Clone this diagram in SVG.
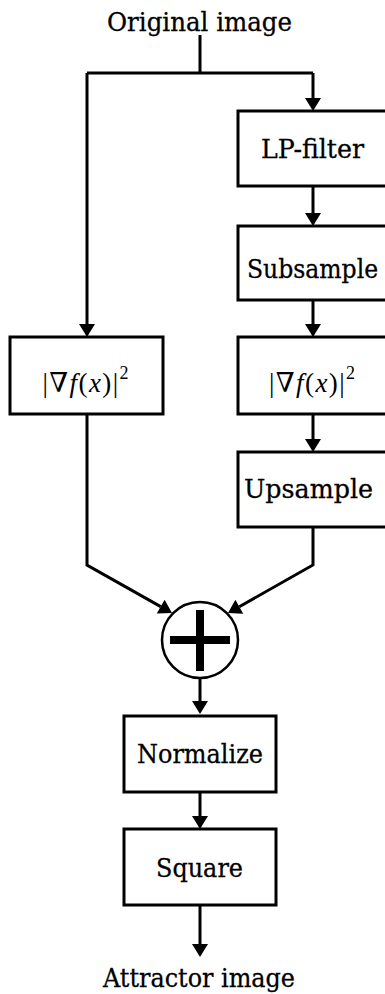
<svg xmlns="http://www.w3.org/2000/svg" width="385" height="994" viewBox="0 0 385 994">
<style>
.box{fill:#fff;stroke:#000;stroke-width:3}
.lbl{font-family:"DejaVu Serif","Liberation Serif",serif;font-size:26px;fill:#000;stroke:#000;stroke-width:0.3;text-anchor:middle}
.math{font-family:"Liberation Serif","DejaVu Serif",serif;font-size:27px;fill:#000;text-anchor:middle}
.wire{fill:none;stroke:#000;stroke-width:3}
</style>
<defs>
<marker id="ah" markerUnits="userSpaceOnUse" markerWidth="16" markerHeight="18" viewBox="0 -9 14 18" refX="0" refY="0" orient="auto">
<path d="M0,-8 L13,0 L0,8 z" fill="#000"/>
</marker>
</defs>
<g id="connectors">
<path class="wire" d="M200,35 V73 M87,73 H313"/>
<path class="wire" d="M87,73 V324" marker-end="url(#ah)"/>
<path class="wire" d="M313,73 V98" marker-end="url(#ah)"/>
<path class="wire" d="M313,186 V213" marker-end="url(#ah)"/>
<path class="wire" d="M313,300 V324" marker-end="url(#ah)"/>
<path class="wire" d="M313,414 V439" marker-end="url(#ah)"/>
<path class="wire" d="M87,414 V565 L160.7,606.6" marker-end="url(#ah)"/>
<path class="wire" d="M313,527 V565 L239.3,606.7" marker-end="url(#ah)"/>
<path class="wire" d="M200,678 V701" marker-end="url(#ah)"/>
<path class="wire" d="M200,792 V816" marker-end="url(#ah)"/>
<path class="wire" d="M200,905 V944" marker-end="url(#ah)"/>
</g>
<g id="input"><text class="lbl" x="199.5" y="31" textLength="185" lengthAdjust="spacingAndGlyphs">Original image</text></g>
<g id="lpfilter"><rect class="box" x="238" y="111" width="150" height="75"/><text class="lbl" x="312.5" y="158" textLength="103" lengthAdjust="spacingAndGlyphs">LP-filter</text></g>
<g id="subsample"><rect class="box" x="238" y="226" width="150" height="74"/><text class="lbl" transform="translate(312.5,278) scale(0.905,1)" x="0" y="0">Subsample</text></g>
<g id="gradright"><rect class="box" x="238" y="337" width="150" height="77"/><text class="math" x="312" y="392" textLength="86" lengthAdjust="spacing">|∇<tspan font-style="italic">f</tspan>(<tspan font-style="italic">x</tspan>)|<tspan font-size="18" dy="-13">2</tspan></text></g>
<g id="gradleft"><rect class="box" x="10" y="337" width="153" height="77"/><text class="math" x="85.5" y="392" textLength="86" lengthAdjust="spacing">|∇<tspan font-style="italic">f</tspan>(<tspan font-style="italic">x</tspan>)|<tspan font-size="18" dy="-13">2</tspan></text></g>
<g id="upsample"><rect class="box" x="238" y="452" width="150" height="75"/><text class="lbl" x="308.5" y="498" textLength="129" lengthAdjust="spacingAndGlyphs">Upsample</text></g>
<g id="sum"><circle cx="200" cy="640" r="38" fill="#fff" stroke="#000" stroke-width="2.5"/><rect x="196" y="610" width="8" height="61" fill="#000"/><rect x="170" y="636" width="60" height="8" fill="#000"/></g>
<g id="normalize"><rect class="box" x="124" y="716" width="152" height="76"/><text class="lbl" x="200" y="763" textLength="126" lengthAdjust="spacingAndGlyphs">Normalize</text></g>
<g id="square"><rect class="box" x="124" y="829" width="152" height="76"/><text class="lbl" x="199.5" y="877" textLength="87" lengthAdjust="spacingAndGlyphs">Square</text></g>
<g id="output"><text class="lbl" x="199" y="987" textLength="192" lengthAdjust="spacingAndGlyphs">Attractor image</text></g>
</svg>
